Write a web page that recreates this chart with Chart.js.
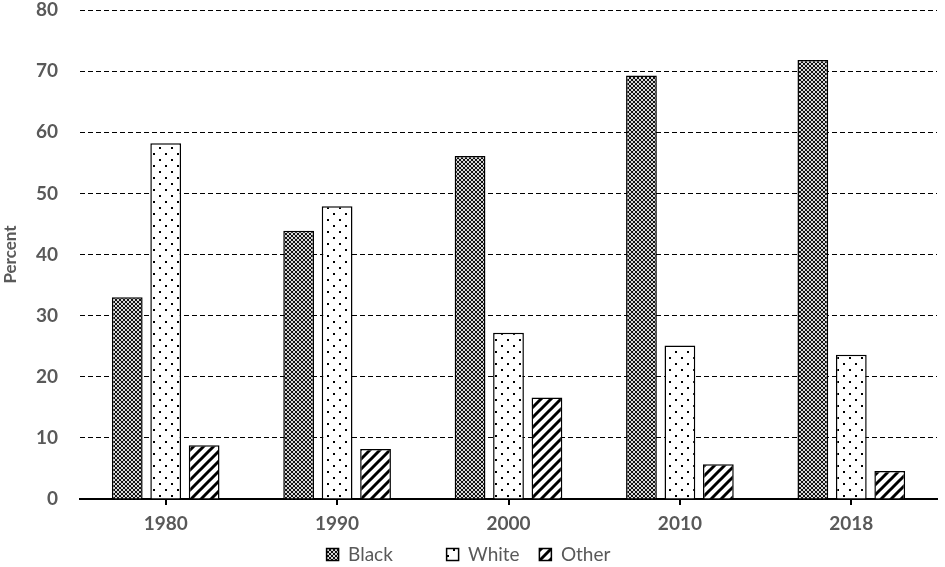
<!DOCTYPE html>
<html>
<head>
<meta charset="utf-8">
<script src="https://cdn.jsdelivr.net/npm/chart.js@4"></script>
<style>
  body { margin: 0; background: #fff; }
  #wrap { width: 945px; height: 567px; }
</style>
</head>
<body>
<div id="wrap"><canvas id="raceChart"></canvas></div>
<script>
const years = ['1980', '1990', '2000', '2010', '2018'];
const black = [33.0, 43.9, 56.1, 69.3, 71.8];
const white = [58.2, 47.9, 27.2, 25.1, 23.6];
const other = [8.8, 8.2, 16.6, 5.7, 4.6];
const yTicks = [0, 10, 20, 30, 40, 50, 60, 70, 80];

const gray = '#595959';
const fontFamily = 'Lato, "Open Sans", sans-serif';
// extra room after each legend entry (non-breaking spaces)
const legendGap = [9, 2, 0];

function makePattern(size, draw) {
  const c = document.createElement('canvas');
  c.width = size; c.height = size;
  const p = c.getContext('2d');
  draw(p, size);
  return p.createPattern(c, 'repeat');
}

// dark cross-hatch with small light rings
const blackFill = makePattern(4, (p, s) => {
  p.fillStyle = '#111';
  p.fillRect(0, 0, s, s);
  p.fillStyle = '#d8d8d8';
  p.fillRect(1, 0, 2, 1);
  p.fillRect(0, 1, 1, 2);
  p.fillRect(3, 1, 1, 2);
  p.fillRect(1, 3, 2, 1);
});

// sparse staggered dots
const whiteFill = makePattern(12, (p, s) => {
  p.fillStyle = '#fff';
  p.fillRect(0, 0, s, s);
  p.fillStyle = '#000';
  p.fillRect(3, 3, 2, 2);
  p.fillRect(9, 9, 2, 2);
});

// wide forward diagonal stripes
const otherFill = makePattern(10, (p, s) => {
  p.fillStyle = '#fff';
  p.fillRect(0, 0, s, s);
  p.strokeStyle = '#000';
  p.lineWidth = 3;
  p.beginPath();
  p.moveTo(-2, s + 2); p.lineTo(s + 2, -2);
  p.moveTo(-2, 2); p.lineTo(2, -2);
  p.moveTo(s - 2, s + 2); p.lineTo(s + 2, s - 2);
  p.stroke();
});

const ctx = document.getElementById('raceChart').getContext('2d');

const chart = new Chart(ctx, {
  type: 'bar',
  data: {
    labels: years,
    datasets: [
      { label: 'Black', data: black, backgroundColor: blackFill, borderColor: '#000', borderWidth: 1.5 },
      { label: 'White', data: white, backgroundColor: whiteFill, borderColor: '#000', borderWidth: 1.5 },
      { label: 'Other', data: other, backgroundColor: otherFill, borderColor: '#000', borderWidth: 1.5 }
    ]
  },
  options: {
    responsive: true,
    maintainAspectRatio: false,
    animation: false,
    categoryPercentage: 0.673,
    barPercentage: 0.8,
    layout: { padding: { top: 0, right: 8, left: 0, bottom: -7 } },
    plugins: {
      tooltip: { enabled: false },
      legend: {
        position: 'bottom',
        labels: {
          color: gray,
          boxWidth: 12,
          boxHeight: 12,
          padding: 10,
          font: { family: fontFamily, size: 19 },
          generateLabels: c => {
            const items = Chart.defaults.plugins.legend.labels.generateLabels(c);
            items.forEach((it, i) => { it.text = it.text + '\u00a0'.repeat(legendGap[i]); });
            return items;
          }
        }
      }
    },
    scales: {
      x: {
        afterFit: axis => { axis.height = 36; },
        grid: {
          offset: false,
          drawOnChartArea: false,
          drawTicks: true,
          tickLength: 6,
          color: '#000',
          lineWidth: 2
        },
        border: { display: true, color: '#000', width: 2 },
        ticks: {
          color: gray,
          padding: 7,
          font: { family: fontFamily, size: 19, weight: 'bold' }
        }
      },
      y: {
        min: 0,
        max: 80,
        afterBuildTicks: axis => { axis.ticks = yTicks.map(v => ({ value: v })); },
        afterFit: axis => {
          axis.width = 80;
          axis.paddingTop = 10;
          axis.paddingBottom = 0;
        },
        grid: { color: '#000', lineWidth: 1, drawTicks: false },
        border: { display: false, dash: [5, 3] },
        ticks: {
          color: gray,
          padding: 22,
          font: { family: fontFamily, size: 19, weight: 'bold' }
        },
        title: {
          display: true,
          text: 'Percent',
          color: gray,
          padding: 0,
          font: { family: fontFamily, size: 17, weight: 'bold' }
        }
      }
    }
  }
});
</script>
</body>
</html>
